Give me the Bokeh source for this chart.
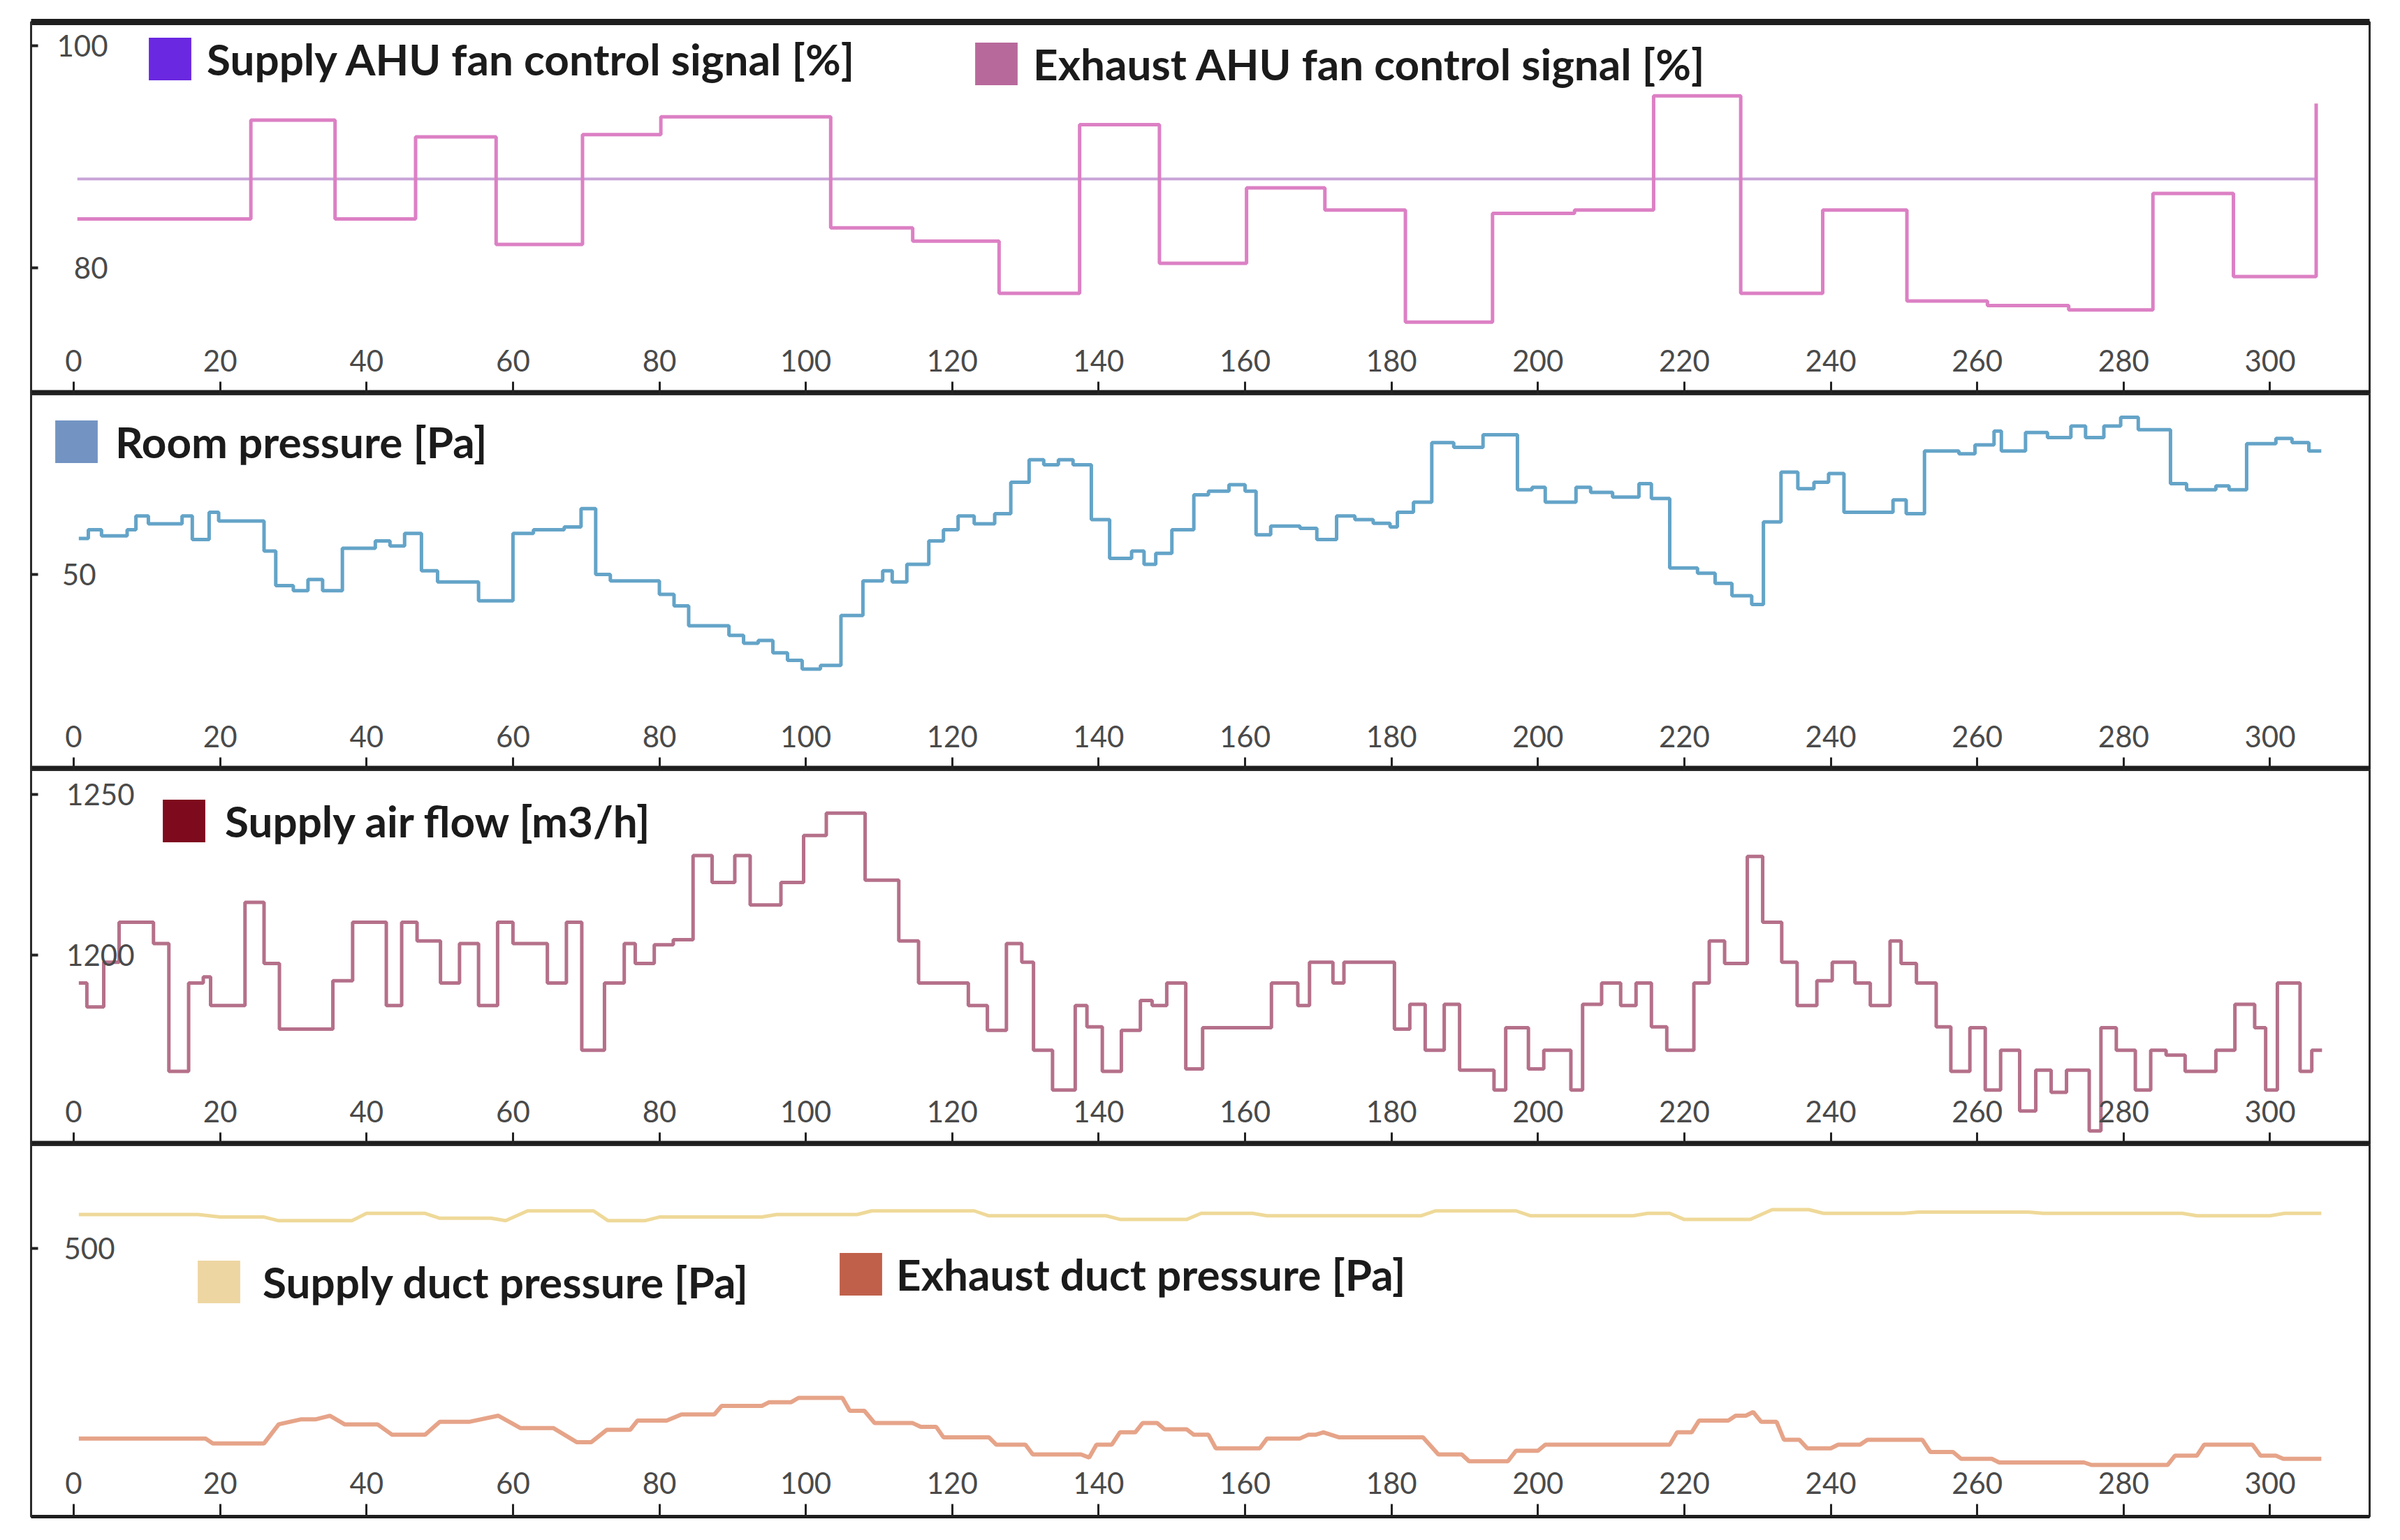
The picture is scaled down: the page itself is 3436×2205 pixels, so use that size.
from bokeh.plotting import figure
from bokeh.layouts import column
from bokeh.models import FixedTicker, LinearAxis, Legend, LegendItem, Range1d
from bokeh.embed import file_html
from bokeh.resources import INLINE

# ---------------- data ----------------
X_TICKS = [0, 20, 40, 60, 80, 100, 120, 140, 160, 180, 200, 220, 240, 260, 280, 300]

# Panel 1: AHU fan control signals [%]
fan_t = [0.5, 24.2, 35.7, 46.7, 57.7, 69.5, 80.2, 103.4, 114.6, 126.4, 137.4, 148.3,
         160.2, 170.9, 181.9, 193.8, 205.0, 215.8, 227.7, 238.9, 250.4, 261.4, 272.5,
         284.0, 295.0, 306.3]
exhaust_fan = [84.4, 93.3, 84.4, 91.8, 82.1, 92.0, 93.6, 83.6, 82.4, 77.7, 92.9, 80.4,
               87.2, 85.2, 75.1, 84.9, 85.2, 95.5, 77.7, 85.2, 77.0, 76.6, 76.2,
               86.7, 79.2, 94.8]
supply_fan_t = [0.5, 306.3]
supply_fan = [88.0, 88.0]

# Panel 2: room pressure [Pa]
room_t = [0.7, 2.0, 3.8, 7.3, 8.5, 10.2, 14.8, 16.2, 18.5, 19.8, 26.0, 27.6, 30.0, 32.0,
          34.0, 36.7, 41.2, 43.2, 45.2, 47.5, 49.7, 55.3, 60.0, 62.8, 67.0, 69.3, 71.3,
          73.3, 80.0, 82.0, 84.0, 89.5, 91.5, 93.5, 95.5, 97.5, 99.5, 102.0, 104.8,
          107.8, 110.5, 111.8, 113.8, 116.8, 118.8, 120.8, 123.0, 125.8, 128.0, 130.5,
          132.5, 134.5, 136.5, 139.0, 141.5, 144.5, 146.2, 147.8, 150.0, 153.0, 155.0,
          157.8, 160.0, 161.5, 163.5, 167.5, 169.8, 172.5, 175.0, 177.5, 179.8, 180.8,
          183.0, 185.5, 188.5, 192.5, 197.2, 199.2, 201.0, 205.2, 207.2, 210.2, 213.8,
          215.5, 218.0, 221.8, 224.2, 226.5, 229.2, 230.8, 233.2, 235.5, 237.7, 239.7,
          241.8, 248.5, 250.3, 252.8, 257.5, 259.7, 262.3, 263.3, 266.6, 269.6, 272.8,
          274.8, 277.3, 279.6, 282.0, 286.4, 288.6, 292.6, 294.4, 296.8, 300.8, 303.0,
          305.3, 307.0]
room_p = [57.8, 59.7, 58.4, 59.7, 62.7, 61.0, 62.7, 57.6, 63.5, 61.6, 55.1, 47.6, 46.5, 48.9,
          46.5, 55.7, 57.3, 56.2, 58.9, 50.8, 48.4, 44.3, 58.9, 59.7, 60.3, 64.3, 50.0,
          48.6, 45.7, 43.2, 38.9, 36.8, 35.1, 35.7, 33.0, 31.4, 29.5, 30.3, 41.1,
          48.6, 50.8, 48.4, 52.2, 57.3, 59.7, 62.7, 61.0, 63.2, 70.0, 74.9,
          73.8, 74.9, 73.8, 61.9, 53.5, 55.1, 52.2, 54.6, 59.7, 67.3, 68.1,
          69.5, 68.1, 58.6, 60.5, 60.0, 57.6, 62.7, 61.9, 61.1, 60.3, 63.5,
          65.7, 78.6, 77.6, 80.3, 68.4, 68.9, 65.7, 68.9, 67.8, 66.8, 69.7,
          66.5, 51.4, 50.3, 48.1, 45.4, 43.5, 61.4, 72.2, 68.6, 70.0, 71.9,
          63.5, 66.2, 63.2, 76.8, 76.2, 78.1, 81.1, 76.8, 80.8, 79.7, 82.2,
          79.7, 82.2, 84.1, 81.4, 69.7, 68.4, 69.2, 68.4, 78.4, 79.5, 78.6,
          76.8, 76.8]

# Panel 3: supply air flow [m3/h]
flow_t = [0.7, 1.8, 4.1, 6.2, 10.9, 13.0, 15.7, 17.7, 18.7, 23.4, 26.0, 28.1, 35.4, 38.1,
          42.7, 44.8, 46.9, 50.1, 52.7, 55.3, 57.9, 60.0, 64.7, 67.3, 69.4, 72.5, 75.2,
          76.7, 79.3, 81.9, 84.6, 87.2, 90.3, 92.4, 96.6, 99.7, 102.8, 108.1, 112.7,
          115.4, 122.2, 124.8, 127.4, 129.5, 131.1, 133.7, 136.8, 138.4, 140.5, 143.1,
          145.7, 147.3, 149.3, 151.9, 154.2, 163.6, 167.2, 168.8, 172.0, 173.5, 180.4,
          182.5, 184.6, 187.2, 189.3, 194.0, 195.6, 198.7, 200.8, 204.5, 206.1, 208.7,
          211.3, 213.4, 215.5, 217.6, 221.3, 223.4, 225.5, 228.6, 230.7, 233.3, 235.4,
          238.1, 240.2, 243.3, 245.4, 248.1, 249.6, 251.7, 254.4, 256.4, 259.0, 261.1,
          263.2, 265.8, 268.0, 270.1, 272.2, 275.3, 276.9, 279.0, 281.6, 283.7, 285.8,
          288.4, 292.6, 295.2, 297.9, 299.4, 301.0, 304.1, 305.7, 307.1]
flow_q = [1191.3, 1183.9, 1197.8, 1210.2, 1203.6, 1163.8, 1191.3, 1193.2, 1184.3, 1216.4,
          1197.4, 1177.0, 1192.0, 1210.2, 1184.3, 1210.2, 1204.4, 1191.3, 1203.6, 1184.3,
          1210.2, 1203.6, 1191.3, 1210.2, 1170.4, 1191.3, 1203.6, 1197.4, 1203.2, 1204.8,
          1231.0, 1222.6, 1231.0, 1215.6, 1222.6, 1237.2, 1244.2, 1223.3, 1204.4, 1191.3,
          1184.3, 1176.6, 1203.6, 1197.8, 1170.4, 1158.0, 1184.3, 1177.7, 1163.8, 1176.6,
          1185.9, 1184.3, 1191.3, 1164.6, 1177.4, 1191.3, 1184.3, 1197.8, 1191.3, 1197.8,
          1177.0, 1184.7, 1170.4, 1184.7, 1164.2, 1158.0, 1177.4, 1164.6, 1170.4, 1158.0,
          1184.7, 1191.3, 1184.3, 1191.3, 1177.7, 1170.4, 1191.3, 1204.4, 1197.4, 1230.7,
          1210.2, 1197.8, 1184.3, 1192.0, 1197.8, 1191.3, 1184.3, 1204.4, 1197.4, 1191.3,
          1177.7, 1163.8, 1177.4, 1158.0, 1170.4, 1151.5, 1164.2, 1157.3, 1164.2, 1145.3,
          1177.4, 1170.4, 1158.0, 1170.4, 1168.9, 1163.8, 1170.4, 1184.7, 1177.4, 1158.0,
          1191.3, 1163.8, 1170.4, 1170.4]

# Panel 4: duct pressures [Pa]
sduct_t = [0.7, 17, 20, 26, 28, 38, 40, 48, 50, 57, 59, 62, 71, 73, 78, 80, 94, 96, 107,
           109, 123, 125, 141, 143, 152, 154, 161, 163, 184, 186, 197, 199, 213, 215, 218,
           220, 229, 232, 237, 239, 250, 252, 267, 269, 288, 290, 300, 302, 307]
sduct_p = [555, 555, 551, 551, 545, 545, 557, 557, 549, 549, 545, 561, 561, 545, 545, 551,
           551, 555, 555, 561, 561, 553, 553, 547, 547, 557, 557, 553, 553, 561, 561, 553,
           553, 557, 557, 547, 547, 563, 563, 557, 557, 559, 559, 557, 557, 553, 553, 557,
           557]
educt_t = [0.7, 18, 19, 26, 28, 31, 33, 35, 37, 41.5, 43.5, 48, 50, 54, 58, 61, 65.5,
           68.7, 70.7, 72.8, 76, 77, 81, 83, 87.5, 88.5, 94, 95, 98, 99, 105, 106, 108,
           109.4, 114.6, 115.7, 117.8, 118.8, 125, 126, 130, 131, 137.6, 138.7, 139.7,
           141.8, 142.9, 145, 146, 148, 149, 152, 153, 155, 156, 162, 163, 167.5, 168.6,
           169.6, 170.7, 172.8, 184.3, 186.4, 189.6, 190.6, 195.9, 197, 200, 201, 218,
           219, 221, 222, 226, 227, 228.4, 229.4, 230.5, 232.6, 233.6, 235.7, 236.8,
           240, 241, 244, 245, 252.5, 253.6, 256.7, 257.8, 262, 263, 274.6, 275.6, 286,
           287, 290, 291, 297.6, 298.7, 300.8, 301.8, 307]
educt_p = [191, 191, 183, 183, 214, 222, 222, 228, 214, 214, 197, 197, 218, 218, 228, 208,
           208, 185, 185, 205, 205, 220, 220, 230, 230, 244, 244, 250, 250, 257, 257, 236,
           236, 216, 216, 210, 210, 193, 193, 181, 181, 165, 165, 160, 181, 181, 201, 201,
           216, 216, 206, 206, 197, 197, 175, 175, 191, 191, 197, 197, 201, 193, 193, 165,
           165, 154, 154, 171, 171, 181, 181, 201, 201, 220, 220, 228, 228, 234, 218, 218,
           189, 189, 175, 175, 181, 181, 189, 189, 169, 169, 158, 158, 152, 152, 148, 148,
           163, 163, 181, 181, 163, 163, 158, 158]

# ---------------- styling helpers ----------------
TICK_FONT = "Lato"
LEG_FONT = "Lato"
X_START, X_END = -5.82, 313.6
NAN = float("nan")


def make_panel(y0, y1, y_ticks, frame_h, y_standoff, top=0, bottom=0, top_line=False,
               bottom_line_w=12):
    p = figure(frame_width=3348, frame_height=frame_h, output_backend="svg",
               toolbar_location=None, x_range=Range1d(X_START, X_END),
               y_range=Range1d(y0, y1), x_axis_location=None, y_axis_location=None,
               min_border_left=44, min_border_right=8, min_border_top=top,
               min_border_bottom=bottom)
    p.grid.visible = False
    p.outline_line_color = "#2b2b2b"
    p.outline_line_width = 3
    p.background_fill_color = "white"

    xa = LinearAxis(ticker=FixedTicker(ticks=X_TICKS))
    xa.axis_line_width = bottom_line_w
    xa.axis_line_color = "#1e1e1e"
    xa.major_tick_in = 18
    xa.major_tick_out = 0
    xa.major_tick_line_width = 3
    xa.major_tick_line_color = "#222222"
    xa.minor_tick_line_color = None
    xa.major_label_standoff = -64
    xa.major_label_text_font = TICK_FONT
    xa.major_label_text_font_size = "42px"
    xa.major_label_text_color = "#4a4a4a"
    p.add_layout(xa, "below")

    ya = LinearAxis(ticker=FixedTicker(ticks=y_ticks))
    ya.axis_line_width = 3
    ya.axis_line_color = "#2b2b2b"
    ya.major_tick_in = 10
    ya.major_tick_out = 0
    ya.major_tick_line_width = 4
    ya.major_tick_line_color = "#222222"
    ya.minor_tick_line_color = None
    ya.major_label_standoff = -y_standoff
    ya.major_label_text_font = TICK_FONT
    ya.major_label_text_font_size = "42px"
    ya.major_label_text_color = "#4a4a4a"
    p.add_layout(ya, "left")

    if top_line:
        ta = LinearAxis(ticker=FixedTicker(ticks=[]))
        ta.axis_line_width = 9
        ta.axis_line_color = "#1e1e1e"
        ta.major_tick_line_color = None
        ta.minor_tick_line_color = None
        ta.major_label_text_font_size = "0px"
        ta.major_label_standoff = 0
        p.add_layout(ta, "above")
    return p


def add_key(p, label, color, loc, standoff):
    # legend proxy: a single undrawable (NaN) box carrying the swatch colour
    r = p.quad(left=[NAN], right=[NAN], top=[NAN], bottom=[NAN],
               fill_color=color, line_color=None)
    leg = Legend(items=[LegendItem(label=label, renderers=[r])], location=loc,
                 orientation="horizontal", glyph_width=76, glyph_height=76,
                 label_standoff=standoff, padding=0, margin=0, spacing=0,
                 border_line_color=None, background_fill_alpha=0,
                 label_text_font=LEG_FONT, label_text_font_style="bold",
                 label_text_font_size="62px", label_text_color="#1b1b1b")
    p.add_layout(leg, "center")


# ---------------- panel 1 ----------------
p1 = make_panel(68.6, 102.15, [80, 100], 533, 110, top=31, top_line=True)
p1.line(supply_fan_t, supply_fan, line_color="#c8a4d8", line_width=4)
p1.step(fan_t, exhaust_fan, mode="after", line_color="#dc80c4", line_width=5)
add_key(p1, "Supply AHU fan control signal [%]", "#6a28e0", (161, 442), 15)
add_key(p1, "Exhaust AHU fan control signal [%]", "#b8699c", (1344, 435), 15)

# ---------------- panel 2 ----------------
p2 = make_panel(7.6, 89.1, [50], 538, 93)
p2.step(room_t, room_p, mode="after", line_color="#64a4c8", line_width=5)
add_key(p2, "Room pressure [Pa]", "#7394c2", (27, 432), 18)

# ---------------- panel 3 ----------------
p3 = make_panel(1140.9, 1257.6, [1200, 1250], 537, 148)
p3.step(flow_t, flow_q, mode="after", line_color="#b5708a", line_width=5)
add_key(p3, "Supply air flow [m3/h]", "#7e0a1e", (181, 426), 21)

# ---------------- panel 4 ----------------
p4 = make_panel(64, 668, [500], 532, 120, bottom=8, bottom_line_w=5)
p4.line(sduct_t, sduct_p, line_color="#efd999", line_width=5)
p4.line(educt_t, educt_p, line_color="#e6a489", line_width=6)
add_key(p4, "Supply duct pressure [Pa]", "#eed6a2", (231, 298), 25)
add_key(p4, "Exhaust duct pressure [Pa]", "#c0604a", (1150, 309), 13)

layout = column(p1, p2, p3, p4, spacing=0)
open("out.html", "w").write(file_html(layout, INLINE))
